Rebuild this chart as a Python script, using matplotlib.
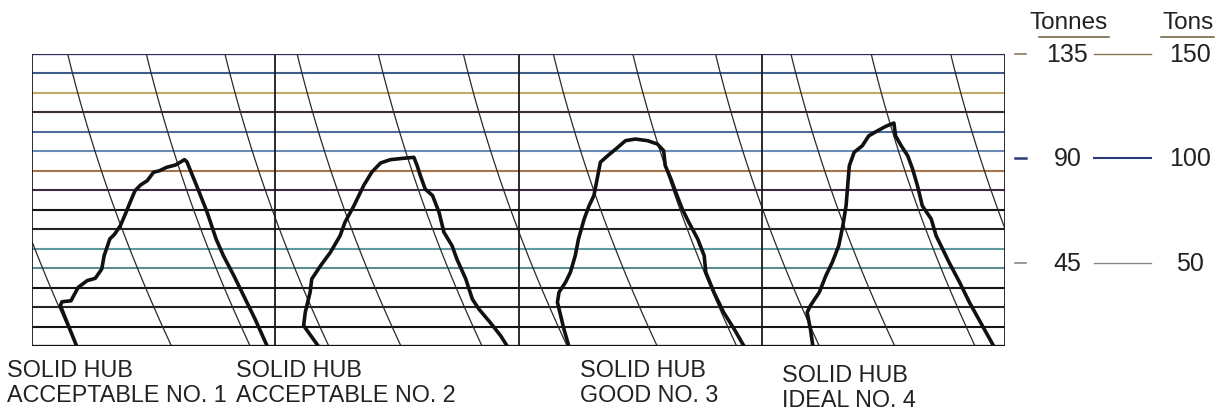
import numpy as np
import matplotlib
matplotlib.use("Agg")
import matplotlib.pyplot as plt

plt.rcParams['font.family'] = ['Liberation Sans', 'DejaVu Sans']

# press-force traces: time (chart divisions inside each panel) vs force (tonnes)
trace1_t = [0.55, 0.35, 0.37, 0.48, 0.57, 0.68, 0.78, 0.86, 0.89, 0.96, 1.02, 1.09, 1.16, 1.21, 1.27,
            1.34, 1.42, 1.50, 1.57, 1.66, 1.77, 1.88, 1.91, 2.03, 2.16, 2.27, 2.36, 2.49, 2.61, 2.75, 2.90]
trace1_f = [9, 26.4, 28.1, 28.5, 34.3, 37.2, 38.2, 42.2, 48, 55.2, 57.3, 60.9, 66.7, 71, 76,
            78.5, 80.3, 84, 84.6, 86.1, 87.1, 89.4, 88.5, 78.2, 66.7, 55.2, 48, 39.3, 30.7, 20.7, 9]

trace2_t = [0.53, 0.35, 0.37, 0.43, 0.45, 0.56, 0.68, 0.80, 0.86, 0.97, 1.09, 1.19, 1.30, 1.42, 1.58,
            1.71, 1.75, 1.79, 1.85, 1.94, 2.02, 2.08, 2.18, 2.24, 2.35, 2.43, 2.51, 2.65, 2.78, 2.86]
trace2_f = [9, 17.8, 23.5, 32.2, 37.9, 43.7, 49.4, 56.6, 62.4, 69.5, 78.2, 84, 88, 89.4, 90,
            90.4, 86.8, 82.5, 76.7, 73.9, 66.7, 58.1, 52.3, 46.5, 37.9, 29.3, 25, 19.2, 13.4, 9]

trace3_t = [0.62, 0.56, 0.52, 0.48, 0.50, 0.58, 0.64, 0.70, 0.74, 0.81, 0.87, 0.93, 0.97, 1.01, 1.10,
            1.20, 1.32, 1.44, 1.59, 1.71, 1.79, 1.81, 1.88, 1.94, 2.02, 2.10, 2.21, 2.29, 2.31, 2.41,
            2.53, 2.66, 2.78]
trace3_f = [9, 16.3, 22.1, 27.9, 32.2, 36.5, 40.8, 48, 55.2, 63.8, 69.5, 73.9, 81.1, 88.3, 91.1,
            94, 97.6, 98.3, 97.6, 96.2, 93.3, 86.8, 81.1, 75.3, 68.1, 62.4, 55.2, 48, 40.8, 32.2,
            23.5, 16.3, 9]

trace4_t = [0.63, 0.60, 0.56, 0.60, 0.71, 0.79, 0.87, 0.95, 1.00, 1.04, 1.06, 1.08, 1.14, 1.24, 1.32,
            1.43, 1.53, 1.63, 1.65, 1.72, 1.80, 1.86, 1.92, 1.98, 2.09, 2.15, 2.23, 2.31, 2.44, 2.56,
            2.72, 2.86]
trace4_f = [9, 16.3, 23.5, 26.4, 32.2, 39.3, 45.1, 52.3, 60.9, 69.5, 78.2, 86.8, 92.6, 95.4, 99.7,
            101.9, 103.8, 105.2, 99.7, 95.4, 91.1, 85.4, 78.2, 69.5, 63.8, 56.6, 50.9, 45.1, 36.5, 27.9,
            17.8, 9]

traces = [(trace1_t, trace1_f), (trace2_t, trace2_f), (trace3_t, trace3_f), (trace4_t, trace4_f)]

labels = ["SOLID HUB\nACCEPTABLE NO. 1", "SOLID HUB\nACCEPTABLE NO. 2",
          "SOLID HUB\nGOOD NO. 3", "SOLID HUB\nIDEAL NO. 4"]

tonnes_ticks = [135, 90, 45]
tons_ticks = [150, 100, 50]

# chart paper
f_min, f_max = 9, 135
n_lines = 16
panel_w = 3
arc_tops = [-0.73, 0.44, 1.41, 2.38, 3.27, 4.27, 5.32, 6.43, 7.41, 8.43, 9.36, 10.35, 11.33]
# colours of the ruled lines, top to bottom
line_colors = ['#2b2b55', '#3d5d8c', '#c0a868', '#3b2c36', '#4c6c9c', '#6a8cb8', '#a8744a', '#3a2a44',
               '#151515', '#252525', '#5e9aa0', '#5c8c90', '#151515', '#252525', '#151515', '#111111']

fig = plt.figure(figsize=(12.21, 4.14), dpi=100)
ax = fig.add_axes([32 / 1221, 1 - 347 / 414, 973 / 1221, 292 / 414])
ax.set_xlim(0, 4 * panel_w)
ax.set_ylim(f_min, f_max)
ax.axis('off')

levels = np.linspace(f_max, f_min, n_lines)
for lev, c in zip(levels, line_colors):
    ax.plot([0, 4 * panel_w], [lev, lev], color=c, lw=1.5, zorder=1)

# curved time arcs
u = np.linspace(0, 1, 60)
for x0 in arc_tops:
    xs = x0 + 0.88 * u + 0.40 * u ** 2
    ys = f_max - u * (f_max - f_min)
    m = (xs >= 0) & (xs <= 4 * panel_w)
    ax.plot(xs[m], ys[m], color='#2a2a2a', lw=0.9, zorder=2)

# frame and panel dividers
for k in range(5):
    ax.plot([k * panel_w, k * panel_w], [f_min, f_max], color='#1a1a1a', lw=1.3, zorder=3)
ax.plot([0, 4 * panel_w], [f_min, f_min], color='#111111', lw=1.6, zorder=3)
ax.plot([0, 4 * panel_w], [f_max, f_max], color='#2b2b55', lw=1.6, zorder=3)

for i, (t, f) in enumerate(traces):
    ax.plot(np.array(t) + i * panel_w, f, color='#111111', lw=2.6, solid_joinstyle='round', zorder=4)

# right hand scale
dash_cols = ['#8a7a55', '#2b3b7a', '#888888']
for tn, tt, dc in zip(tonnes_ticks, tons_ticks, dash_cols):
    ax.plot([12.12, 12.26], [tn, tn], color=dc, lw=1.8 if tn == 90 else 1.2, clip_on=False)
    ax.text(12.77, tn, str(tn), ha='center', va='center', fontsize=18, color='#222222', clip_on=False)
    ax.plot([13.1, 13.8], [tn, tn], color=dc, lw=1.5 if tn == 90 else 1.0, clip_on=False)
    ax.text(14.28, tn, str(tt), ha='center', va='center', fontsize=18, color='#222222', clip_on=False)

ax.text(12.78, 149.0, "Tonnes", ha='center', va='center', fontsize=17.5, color='#222222', clip_on=False)
ax.plot([12.42, 13.28], [142.4, 142.4], color='#6a5a3a', lw=1.1, clip_on=False)
ax.text(14.26, 149.0, "Tons", ha='center', va='center', fontsize=17.5, color='#222222', clip_on=False)
ax.plot([13.93, 14.58], [142.4, 142.4], color='#6a5a3a', lw=1.1, clip_on=False)

# captions under panels
label_pos = [(7, 359), (236, 359), (580, 359), (782, 364)]
for (px, py), lab in zip(label_pos, labels):
    fig.text(px / 1221, 1 - py / 414, lab, ha='left', va='top', fontsize=16.8,
             color='#222222', linespacing=1.12)

fig.savefig("out.png", dpi=100)
